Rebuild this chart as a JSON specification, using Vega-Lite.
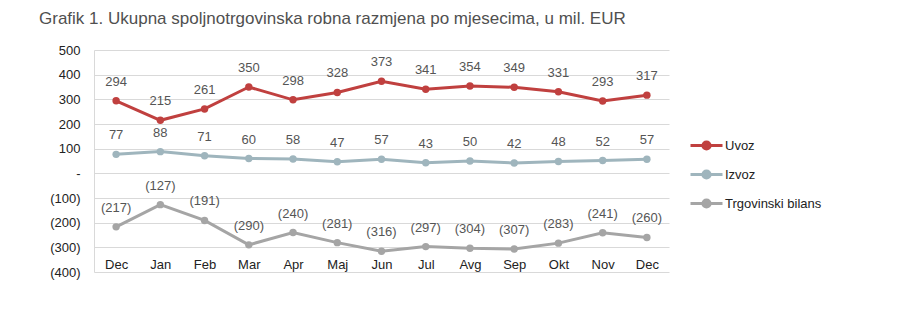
{
  "$schema": "https://vega.github.io/schema/vega-lite/v6.json",
  "width": 575,
  "height": 222,
  "autosize": {"type": "none"},
  "padding": {"left": 94, "top": 50, "right": 229, "bottom": 57},
  "background": "white",
  "title": {
    "text": "Grafik 1. Ukupna spoljnotrgovinska robna razmjena po mjesecima, u mil. EUR",
    "anchor": "start",
    "frame": "group",
    "dx": -55,
    "offset": 16,
    "font": "Liberation Sans",
    "fontSize": 17,
    "fontWeight": "normal",
    "color": "#505050"
  },
  "config": {"view": {"stroke": null}, "font": "Liberation Sans"},
  "data": {
    "values": [
      {"m": "Dec0", "serija": "Uvoz", "v": 294},
      {"m": "Jan", "serija": "Uvoz", "v": 215},
      {"m": "Feb", "serija": "Uvoz", "v": 261},
      {"m": "Mar", "serija": "Uvoz", "v": 350},
      {"m": "Apr", "serija": "Uvoz", "v": 298},
      {"m": "Maj", "serija": "Uvoz", "v": 328},
      {"m": "Jun", "serija": "Uvoz", "v": 373},
      {"m": "Jul", "serija": "Uvoz", "v": 341},
      {"m": "Avg", "serija": "Uvoz", "v": 354},
      {"m": "Sep", "serija": "Uvoz", "v": 349},
      {"m": "Okt", "serija": "Uvoz", "v": 331},
      {"m": "Nov", "serija": "Uvoz", "v": 293},
      {"m": "Dec", "serija": "Uvoz", "v": 317},
      {"m": "Dec0", "serija": "Izvoz", "v": 77},
      {"m": "Jan", "serija": "Izvoz", "v": 88},
      {"m": "Feb", "serija": "Izvoz", "v": 71},
      {"m": "Mar", "serija": "Izvoz", "v": 60},
      {"m": "Apr", "serija": "Izvoz", "v": 58},
      {"m": "Maj", "serija": "Izvoz", "v": 47},
      {"m": "Jun", "serija": "Izvoz", "v": 57},
      {"m": "Jul", "serija": "Izvoz", "v": 43},
      {"m": "Avg", "serija": "Izvoz", "v": 50},
      {"m": "Sep", "serija": "Izvoz", "v": 42},
      {"m": "Okt", "serija": "Izvoz", "v": 48},
      {"m": "Nov", "serija": "Izvoz", "v": 52},
      {"m": "Dec", "serija": "Izvoz", "v": 57},
      {"m": "Dec0", "serija": "Trgovinski bilans", "v": -217},
      {"m": "Jan", "serija": "Trgovinski bilans", "v": -127},
      {"m": "Feb", "serija": "Trgovinski bilans", "v": -191},
      {"m": "Mar", "serija": "Trgovinski bilans", "v": -290},
      {"m": "Apr", "serija": "Trgovinski bilans", "v": -240},
      {"m": "Maj", "serija": "Trgovinski bilans", "v": -281},
      {"m": "Jun", "serija": "Trgovinski bilans", "v": -316},
      {"m": "Jul", "serija": "Trgovinski bilans", "v": -297},
      {"m": "Avg", "serija": "Trgovinski bilans", "v": -304},
      {"m": "Sep", "serija": "Trgovinski bilans", "v": -307},
      {"m": "Okt", "serija": "Trgovinski bilans", "v": -283},
      {"m": "Nov", "serija": "Trgovinski bilans", "v": -241},
      {"m": "Dec", "serija": "Trgovinski bilans", "v": -260}
    ]
  },
  "encoding": {
    "x": {
      "field": "m",
      "type": "ordinal",
      "sort": ["Dec0", "Jan", "Feb", "Mar", "Apr", "Maj", "Jun", "Jul", "Avg", "Sep", "Okt", "Nov", "Dec"],
      "scale": {"type": "point", "padding": 0.5},
      "axis": {
        "title": null,
        "labelExpr": "slice(datum.label, 0, 3)",
        "labelAngle": 0,
        "ticks": false,
        "domain": false,
        "grid": false,
        "labelBaseline": "middle",
        "labelPadding": -8,
        "labelFont": "Liberation Sans",
        "labelFontSize": 13,
        "labelFontWeight": "normal",
        "labelColor": "#222222"
      }
    },
    "y": {
      "field": "v",
      "type": "quantitative",
      "scale": {"domain": [-400, 500], "nice": false},
      "axis": {
        "title": null,
        "values": [-400, -300, -200, -100, 0, 100, 200, 300, 400, 500],
        "format": "(d",
        "labelExpr": "datum.value === 0 ? '-' : datum.label",
        "ticks": false,
        "domain": true,
        "domainColor": "#d9d9d9",
        "gridColor": "#d9d9d9",
        "labelPadding": 14,
        "labelFont": "Liberation Sans",
        "labelFontSize": 13,
        "labelFontWeight": "normal",
        "labelColor": "#222222"
      }
    }
  },
  "layer": [
    {
      "mark": {"type": "line", "strokeWidth": 3, "point": {"filled": true, "size": 55}},
      "encoding": {
        "color": {
          "field": "serija",
          "type": "nominal",
          "scale": {
            "domain": ["Uvoz", "Izvoz", "Trgovinski bilans"],
            "range": ["#c0403f", "#9fb5bd", "#a5a5a5"]
          },
          "legend": {
            "title": null,
            "orient": "none",
            "legendX": 603,
            "legendY": 86,
            "padding": 0,
            "symbolType": "M-2,0H2M-0.45,0A0.45,0.45,0,1,0,0.45,0A0.45,0.45,0,1,0,-0.45,0Z",
            "symbolSize": 256,
            "symbolStrokeWidth": 3,
            "rowPadding": 8,
            "labelOffset": 9,
            "labelFont": "Liberation Sans",
            "labelFontSize": 13,
            "labelColor": "#222222",
            "encode": {"symbols": {"update": {"fill": {"scale": "color", "field": "value"}, "opacity": {"value": 1}}}}
          }
        }
      }
    },
    {
      "mark": {"type": "text", "dy": -19, "fontSize": 13, "color": "#555555", "font": "Liberation Sans"},
      "encoding": {"text": {"field": "v", "type": "quantitative", "format": "(d"}}
    }
  ]
}
